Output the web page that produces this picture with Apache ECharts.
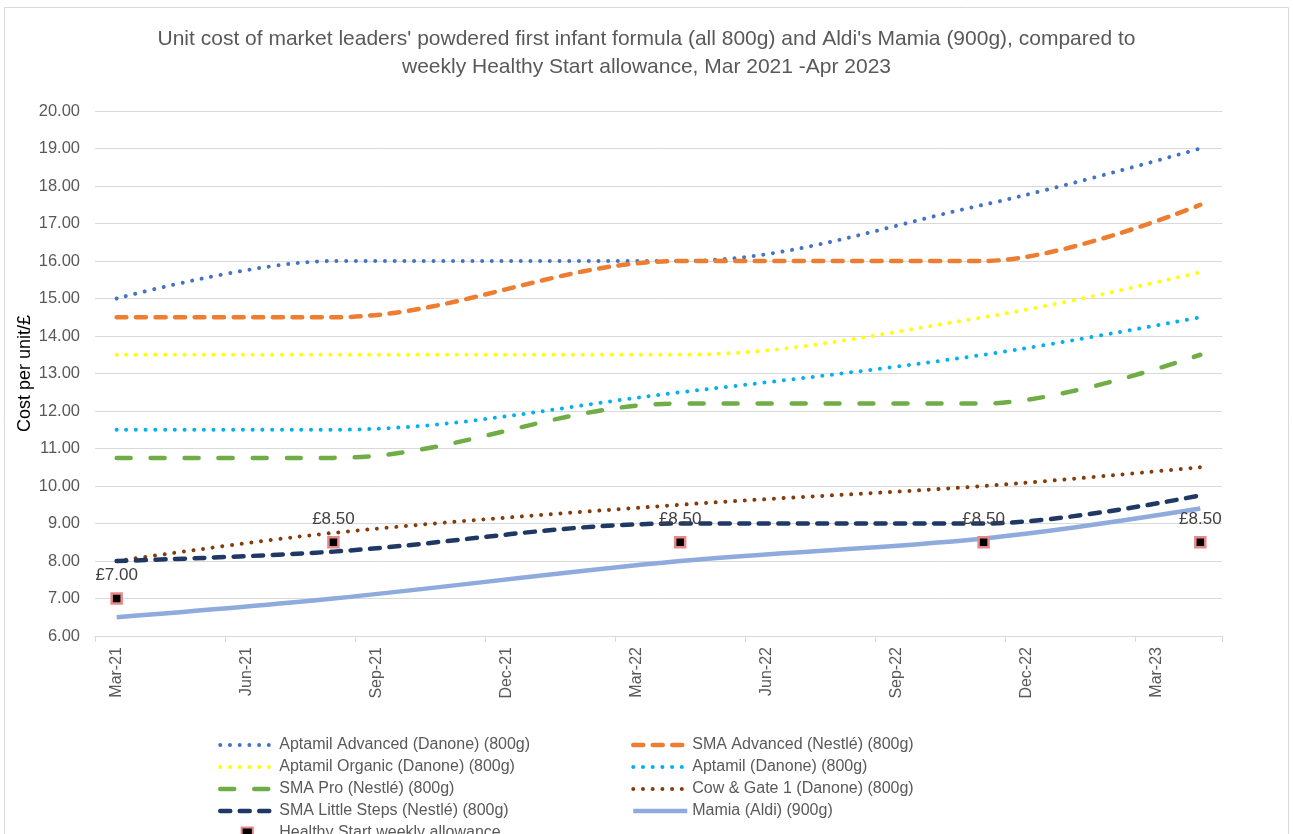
<!DOCTYPE html>
<html>
<head>
<meta charset="utf-8">
<script src="https://cdn.jsdelivr.net/npm/echarts@6/dist/echarts.min.js"></script>
<style>
html,body{margin:0;padding:0;background:#fff;}
#chart{width:1293px;height:834px;}
</style>
</head>
<body>
<div id="chart"></div>
<script>
// Month categories (x axis slots)
var months = ['Mar-21','Apr-21','May-21','Jun-21','Jul-21','Aug-21','Sep-21','Oct-21','Nov-21','Dec-21',
  'Jan-22','Feb-22','Mar-22','Apr-22','May-22','Jun-22','Jul-22','Aug-22','Sep-22','Oct-22','Nov-22','Dec-22',
  'Jan-23','Feb-23','Mar-23','Apr-23'];
// Observation dates
var obsDates = ['Mar-21','Aug-21','Apr-22','Nov-22','Apr-23'];

var aptamilAdvanced = [15.0, 16.0, 16.0, 17.5, 19.0];
var smaAdvanced     = [14.5, 14.5, 16.0, 16.0, 17.5];
var aptamilOrganic  = [13.5, 13.5, 13.5, 14.5, 15.7];
var aptamil         = [11.5, 11.5, 12.5, 13.5, 14.5];
var smaPro          = [10.75, 10.75, 12.2, 12.2, 13.5];
var cowGate         = [8.0, 8.75, 9.5, 10.0, 10.5];
var smaLittleSteps  = [8.0, 8.25, 9.0, 9.0, 9.75];
var mamia           = [6.5, 7.0, 8.0, 8.6, 9.4];
var healthyStart    = [7.0, 8.5, 8.5, 8.5, 8.5];

var yTicks = {min: 6, max: 20, interval: 1};

function toSlots(vals) {
  var arr = months.map(function(){ return null; });
  obsDates.forEach(function(d, i){ arr[months.indexOf(d)] = vals[i]; });
  return arr;
}

var FONT = '"Liberation Sans", Arial, sans-serif';

function lineSeries(name, vals, color, width, type, cap) {
  return {
    name: name, type: 'line', data: toSlots(vals), connectNulls: true,
    smooth: 0.35, showSymbol: false, symbol: 'none',
    lineStyle: {color: color, width: width, type: type, cap: cap || 'round'},
    itemStyle: {color: color},
    emphasis: {disabled: true}
  };
}

var dotted = [0.01, 9.7];
var dashed = [10, 9.5];
var longDash = [14, 20];

var HS = 'Healthy Start weekly allowance';

var series = [
  lineSeries('Aptamil Advanced (Danone) (800g)', aptamilAdvanced, '#4472c4', 4, dotted),
  lineSeries('SMA Advanced (Nestlé) (800g)', smaAdvanced, '#ed7d31', 4.5, dashed),
  lineSeries('Aptamil Organic (Danone) (800g)', aptamilOrganic, '#ffff00', 4, dotted),
  lineSeries('Aptamil (Danone) (800g)', aptamil, '#00b0f0', 4, dotted),
  lineSeries('SMA Pro (Nestlé) (800g)', smaPro, '#70ad47', 4.5, longDash),
  lineSeries('Cow & Gate 1 (Danone) (800g)', cowGate, '#843c0c', 4, dotted),
  lineSeries('SMA Little Steps (Nestlé) (800g)', smaLittleSteps, '#203864', 4.5, dashed),
  lineSeries('Mamia (Aldi) (900g)', mamia, '#8faadc', 4.5, 'solid', 'butt'),
  {
    name: HS, type: 'line', data: toSlots(healthyStart),
    connectNulls: false, showSymbol: true, symbol: 'rect', symbolSize: 10,
    lineStyle: {width: 0, opacity: 0},
    itemStyle: {color: '#000000', borderColor: '#e8898b', borderWidth: 2.5},
    label: {
      show: true, position: 'top', distance: 8,
      formatter: function(p){ return '£' + p.value.toFixed(2); },
      color: '#404040', fontSize: 17, fontFamily: FONT
    },
    emphasis: {disabled: true}, z: 5
  }
];

var legendText = {color: '#595959', fontSize: 16, fontFamily: FONT};
function legendItems(names) {
  return names.map(function(n){
    return n === HS ? {name: n, itemStyle: {opacity: 1}} : {name: n};
  });
}
var legendCommon = {
  orient: 'vertical', top: 732, height: 140, itemWidth: 54, itemHeight: 14, itemGap: 6,
  textStyle: legendText, selectedMode: false,
  itemStyle: {opacity: 0},
  lineStyle: {width: 'inherit'}
};

var option = {
  animation: false,
  backgroundColor: '#ffffff',
  title: {
    text: "Unit cost of market leaders' powdered first infant formula (all 800g) and Aldi's Mamia (900g), compared to\nweekly Healthy Start allowance, Mar 2021 -Apr 2023",
    left: 'center', top: 20,
    textStyle: {color: '#595959', fontSize: 21, fontWeight: 'normal', fontFamily: FONT, lineHeight: 28}
  },
  graphic: [{
    type: 'rect', shape: {x: 4.5, y: 7.5, width: 1284, height: 850},
    style: {fill: 'none', stroke: '#d9d9d9', lineWidth: 1}, silent: true
  }],
  grid: {left: 95, right: 71, top: 111, bottom: 198, containLabel: false},
  xAxis: {
    type: 'category', data: months, boundaryGap: true,
    axisLine: {show: true, lineStyle: {color: '#d9d9d9', width: 1}},
    axisTick: {show: true, interval: 2, length: 6, lineStyle: {color: '#d9d9d9'}},
    axisLabel: {interval: 2, rotate: 90, color: '#595959', fontSize: 16, fontFamily: FONT, margin: 11},
    splitLine: {show: false}
  },
  yAxis: {
    type: 'value', min: yTicks.min, max: yTicks.max, interval: yTicks.interval,
    name: 'Cost per unit/£', nameLocation: 'middle', nameGap: 61, nameRotate: 90,
    nameMoveOverlap: false,
    nameTextStyle: {color: '#000000', fontSize: 18, fontFamily: FONT},
    axisLine: {show: false}, axisTick: {show: false},
    axisLabel: {color: '#595959', fontSize: 16.5, fontFamily: FONT, margin: 15,
      formatter: function(v){ return v.toFixed(2); }},
    splitLine: {lineStyle: {color: '#d9d9d9', width: 1}}
  },
  legend: [
    Object.assign({}, legendCommon, {
      left: 213,
      data: legendItems(['Aptamil Advanced (Danone) (800g)', 'Aptamil Organic (Danone) (800g)', 'SMA Pro (Nestlé) (800g)',
             'SMA Little Steps (Nestlé) (800g)', HS])
    }),
    Object.assign({}, legendCommon, {
      left: 626,
      data: legendItems(['SMA Advanced (Nestlé) (800g)', 'Aptamil (Danone) (800g)', 'Cow & Gate 1 (Danone) (800g)', 'Mamia (Aldi) (900g)'])
    })
  ],
  series: series
};

var chart = echarts.init(document.getElementById('chart'), null, {renderer: 'canvas'});
chart.setOption(option);
</script>
</body>
</html>
